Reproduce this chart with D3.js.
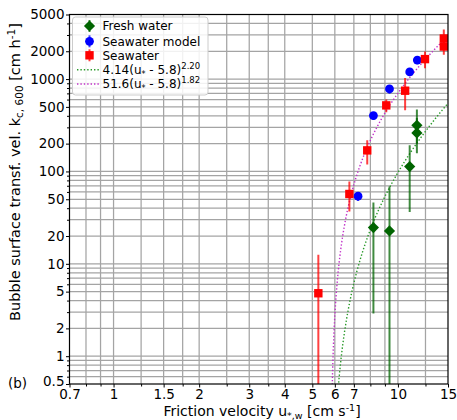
<!DOCTYPE html>
<html>
<head>
<meta charset="utf-8">
<script src="https://cdn.jsdelivr.net/npm/d3@7"></script>
<style>
  html, body { margin: 0; padding: 0; background: #fff; }
  svg text { font-family: "DejaVu Sans", sans-serif; fill: #000; }
</style>
</head>
<body>
<svg id="chart" width="457" height="420"></svg>
<script>
// Fresh water measurements (diamonds) with error bar ranges
const freshX  = [8.2, 9.34, 11.0, 11.66, 11.66];
const freshY  = [24.7, 22.7, 113, 316, 261];
const freshLo = [2.9, 0.3, 36.5, 200, 157];
const freshHi = [46, 68.5, 192, 469, 380];

// Seawater model (circles)
const modelX  = [7.24, 8.2, 9.34, 11.0, 11.7];
const modelY  = [54, 403, 781, 1196, 1604];
const modelLo = [48, 360, 700, 1080, 1450];
const modelHi = [58, 430, 830, 1260, 1690];

// Seawater measurements (squares)
const seaX  = [5.25, 6.75, 7.8, 9.1, 10.6, 12.45, 14.5, 14.5];
const seaY  = [4.8, 57, 169, 519, 748, 1645, 2750, 2250];
const seaLo = [0.3, 36.8, 119, 438, 461, 1312, 2300, 1830];
const seaHi = [12.5, 78, 217, 602, 1029, 1992, 3430, 2700];

// Power-law fits a*(u - u0)^b
const fitA  = [4.14, 51.6];
const fitU0 = [5.8, 5.8];
const fitB  = [2.20, 1.82];
const fitColors = ["#2a9a2a", "#c030c8"];

// Axis ticks and grid positions
const xTickLabels = [0.7, 1, 1.5, 2, 3, 4, 5, 6, 7, 10, 15];
const xGrid = [0.8, 0.9, 1, 1.25, 1.5, 1.75, 2, 2.5, 3, 3.5, 4, 5, 6, 7, 8, 9, 10, 12.5];
const yTickLabels = [0.5, 1, 2, 5, 10, 20, 50, 100, 200, 500, 1000, 2000, 5000];
const yGrid = [0.6, 0.7, 0.8, 0.9, 1, 2, 3, 4, 5, 6, 7, 8, 9, 10, 20, 30, 40, 50, 60, 70, 80, 90,
               100, 200, 300, 400, 500, 600, 700, 800, 900, 1000, 2000, 3000, 4000];

const svg = d3.select("#chart");
const L = 69.5, R = 448, T = 14.5, B = 384;

const x = d3.scaleLog().domain([0.7, 15]).range([L, R]);
const y = d3.scaleLog().domain([0.5, 5000]).range([B, T]);

svg.append("defs").append("clipPath").attr("id", "plotclip")
  .append("rect").attr("x", L).attr("y", T).attr("width", R - L).attr("height", B - T);

// Grid
const grid = svg.append("g");
grid.selectAll("line.gx").data(xGrid).join("line")
  .attr("x1", d => x(d)).attr("x2", d => x(d)).attr("y1", T).attr("y2", B)
  .attr("stroke", "#a4a4a4").attr("stroke-width", 1.25);
grid.selectAll("line.gy").data(yGrid).join("line")
  .attr("y1", d => y(d)).attr("y2", d => y(d)).attr("x1", L).attr("x2", R)
  .attr("stroke", "#a4a4a4").attr("stroke-width", 1.25);

// Axes
const xAxis = d3.axisBottom(x).tickValues(xTickLabels).tickFormat(d3.format("~g")).tickSize(3.5).tickPadding(1.5);
const gx = svg.append("g").attr("transform", `translate(0,${B})`).call(xAxis);
gx.select(".domain").remove();
gx.selectAll("text").attr("font-size", 13.5).attr("font-family", "DejaVu Sans");
const xMinor = d3.axisBottom(x).tickValues(xGrid.filter(v => !xTickLabels.includes(v))).tickFormat("").tickSize(2.5);
const gxm = svg.append("g").attr("transform", `translate(0,${B})`).call(xMinor);
gxm.select(".domain").remove();

const yAxis = d3.axisLeft(y).tickValues(yTickLabels).tickFormat(d3.format("~g")).tickSize(3.5).tickPadding(1.5);
const gy = svg.append("g").attr("transform", `translate(${L},0)`).call(yAxis);
gy.select(".domain").remove();
gy.selectAll("text").attr("font-size", 13.5).attr("font-family", "DejaVu Sans");
// lift the lowest label slightly so it clears the x tick labels in the corner
gy.selectAll(".tick").filter(d => d === 0.5).select("text").attr("y", -3);
const yMinor = d3.axisLeft(y).tickValues(yGrid.filter(v => !yTickLabels.includes(v))).tickFormat("").tickSize(2.5);
const gym = svg.append("g").attr("transform", `translate(${L},0)`).call(yMinor);
gym.select(".domain").remove();

// Plot contents
const plot = svg.append("g").attr("clip-path", "url(#plotclip)");

// Fit curves
fitA.forEach((a, i) => {
  const u0 = fitU0[i], b = fitB[i];
  const us = d3.range(0, 401).map(k => u0 + Math.pow(10, -4 + k * (Math.log10(15 - u0) + 4) / 400));
  const pts = us.map(u => [u, a * Math.pow(u - u0, b)]);
  plot.append("path")
    .attr("d", d3.line().x(d => x(d[0])).y(d => y(Math.max(d[1], 0.01)))(pts))
    .attr("fill", "none").attr("stroke", fitColors[i]).attr("stroke-width", 1.4)
    .attr("stroke-dasharray", "1.4,2");
});

// Error bars
function errBars(xs, lo, hi, color, op) {
  plot.append("g").selectAll("line").data(xs).join("line")
    .attr("x1", d => x(d)).attr("x2", d => x(d))
    .attr("y1", (d, i) => y(lo[i])).attr("y2", (d, i) => y(hi[i]))
    .attr("stroke", color).attr("stroke-opacity", op).attr("stroke-width", 2);
}
errBars(seaX, seaLo, seaHi, "#ff0000", 0.75);
errBars(modelX, modelLo, modelHi, "#0000ff", 0.75);
errBars(freshX, freshLo, freshHi, "#006400", 0.75);

const diamond = d3.symbol().type(d3.symbolDiamond2).size(80);
plot.append("g").selectAll("path").data(freshX).join("path")
  .attr("d", diamond)
  .attr("transform", (d, i) => `translate(${x(d)},${y(freshY[i])})`)
  .attr("fill", "#006400");

plot.append("g").selectAll("circle").data(modelX).join("circle")
  .attr("cx", d => x(d)).attr("cy", (d, i) => y(modelY[i])).attr("r", 4.4)
  .attr("fill", "#0000ff");

plot.append("g").selectAll("rect").data(seaX).join("rect")
  .attr("x", d => x(d) - 4.2).attr("y", (d, i) => y(seaY[i]) - 4.2)
  .attr("width", 8.4).attr("height", 8.4).attr("fill", "#ff0000");

// Frame
svg.append("rect").attr("x", L).attr("y", T).attr("width", R - L).attr("height", B - T)
  .attr("fill", "none").attr("stroke", "#000").attr("stroke-width", 1.2);

// Legend
const lg = svg.append("g");
lg.append("rect").attr("x", 72.5).attr("y", 17).attr("width", 135.5).attr("height", 78).attr("rx", 3)
  .attr("fill", "#fff").attr("fill-opacity", 0.85).attr("stroke", "#cccccc").attr("stroke-width", 1);
const rows = [26, 41.3, 55.3, 69.7, 84];
const mx = 89.5;
// fresh water entry
lg.append("line").attr("x1", mx).attr("x2", mx).attr("y1", rows[0] - 6).attr("y2", rows[0] + 6)
  .attr("stroke", "#006400").attr("stroke-opacity", 0.75).attr("stroke-width", 2);
lg.append("path").attr("d", diamond).attr("transform", `translate(${mx},${rows[0]})`).attr("fill", "#006400");
// model entry
lg.append("line").attr("x1", mx).attr("x2", mx).attr("y1", rows[1] - 6).attr("y2", rows[1] + 6)
  .attr("stroke", "#0000ff").attr("stroke-opacity", 0.75).attr("stroke-width", 2);
lg.append("circle").attr("cx", mx).attr("cy", rows[1]).attr("r", 4.4).attr("fill", "#0000ff");
// seawater entry
lg.append("line").attr("x1", mx).attr("x2", mx).attr("y1", rows[2] - 6).attr("y2", rows[2] + 6)
  .attr("stroke", "#ff0000").attr("stroke-opacity", 0.75).attr("stroke-width", 2);
lg.append("rect").attr("x", mx - 4.2).attr("y", rows[2] - 4.2).attr("width", 8.4).attr("height", 8.4).attr("fill", "#ff0000");
// fit entries
[3, 4].forEach((r, i) => {
  lg.append("line").attr("x1", 77).attr("x2", 100).attr("y1", rows[r]).attr("y2", rows[r])
    .attr("stroke", fitColors[i]).attr("stroke-width", 1.4).attr("stroke-dasharray", "1.4,2");
});
const tx = 102.5;
["Fresh water", "Seawater model", "Seawater"].forEach((s, i) => {
  lg.append("text").attr("x", tx).attr("y", rows[i]).attr("dy", "0.35em").attr("font-size", 12).text(s);
});
fitA.forEach((a, i) => {
  const t = lg.append("text").attr("x", tx).attr("y", rows[3 + i]).attr("dy", "0.35em").attr("font-size", 12);
  t.append("tspan").text(`${a.toFixed(a < 10 ? 2 : 1)}(u`);
  t.append("tspan").attr("font-size", 8).attr("dy", 3).text("*");
  t.append("tspan").attr("dy", -3).text(` - ${fitU0[i]})`);
  t.append("tspan").attr("font-size", 8.5).attr("dy", -5).text(fitB[i].toFixed(2));
});

// Axis titles
const xt = svg.append("text").attr("x", 262).attr("y", 416).attr("text-anchor", "middle").attr("font-size", 14);
xt.append("tspan").text("Friction velocity u");
xt.append("tspan").attr("font-size", 9.5).attr("dy", 3).text("*,w");
xt.append("tspan").attr("dy", -3).text(" [cm s");
xt.append("tspan").attr("font-size", 9.5).attr("dy", -5).text("-1");
xt.append("tspan").attr("dy", 5).text("]");

const yt = svg.append("text").attr("transform", "translate(20,172) rotate(-90)")
  .attr("text-anchor", "middle").attr("font-size", 14.5);
yt.append("tspan").text("Bubble surface transf. vel. k");
yt.append("tspan").attr("font-size", 10.5).attr("dy", 3).text("c, 600");
yt.append("tspan").attr("dy", -3).text(" [cm h");
yt.append("tspan").attr("font-size", 10.5).attr("dy", -5).text("-1");
yt.append("tspan").attr("dy", 5).text("]");

svg.append("text").attr("x", 8).attr("y", 388).attr("font-size", 13.5).text("(b)");
</script>
</body>
</html>
